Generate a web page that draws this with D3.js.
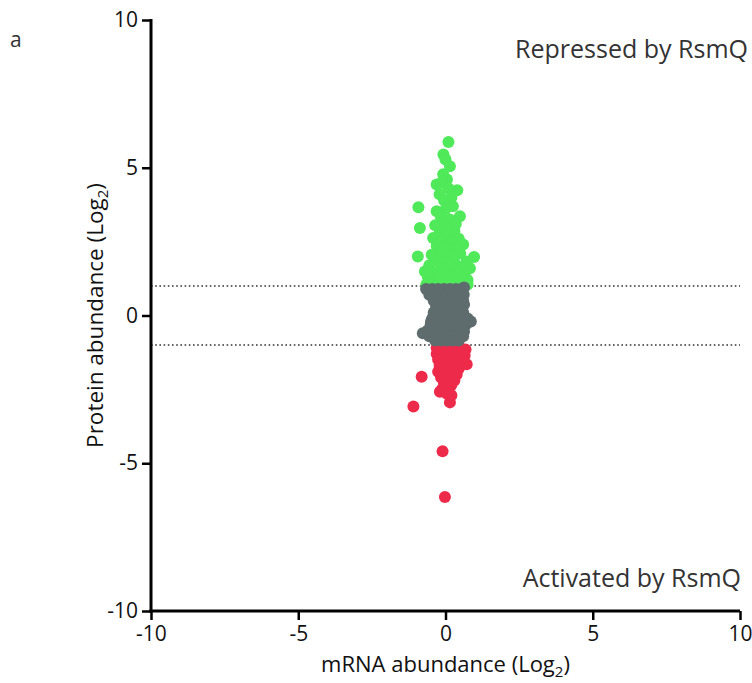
<!DOCTYPE html>
<html>
<head>
<meta charset="utf-8">
<script src="https://cdn.jsdelivr.net/npm/d3@7"></script>
<style>
  html, body { margin: 0; padding: 0; background: #fff; }
  svg { display: block; font-family: "Open Sans", sans-serif; }
</style>
</head>
<body>
<div id="chart"></div>
<script>
// log2 mRNA (x) vs log2 protein (y), one array per group
const repressed = [
  [0.10, 5.87], [-0.07, 5.45], [0.00, 5.28], [0.15, 5.05], [-0.08, 4.78], [0.05, 4.60],
  [-0.30, 4.43], [-0.13, 4.49], [0.40, 4.24], [0.10, 4.30], [-0.20, 4.10], [0.20, 4.00],
  [-0.05, 3.90], [-0.92, 3.66], [-0.30, 3.53], [0.00, 3.60], [0.25, 3.70], [0.49, 3.36],
  [-0.15, 3.30], [0.15, 3.25], [0.35, 3.10], [-0.35, 3.05], [0.00, 3.00], [-0.87, 2.96],
  [0.30, 2.85], [-0.20, 2.80], [0.10, 2.75], [0.45, 2.60], [-0.42, 2.62], [-0.10, 2.55],
  [0.20, 2.50], [0.60, 2.40], [-0.30, 2.35], [0.00, 2.30], [0.35, 2.25], [-0.47, 2.06],
  [-0.15, 2.10], [0.15, 2.05], [0.50, 2.10], [-0.94, 2.00], [0.97, 1.98], [0.72, 1.83],
  [-0.30, 1.85], [0.00, 1.80], [0.30, 1.80], [-0.55, 1.70], [0.83, 1.60], [0.55, 1.65],
  [-0.15, 1.60], [0.15, 1.60], [-0.70, 1.49], [-0.40, 1.45], [0.40, 1.45], [0.00, 1.40],
  [0.65, 1.35], [-0.60, 1.30], [-0.25, 1.30], [0.25, 1.30], [0.75, 1.20], [-0.50, 1.15],
  [0.10, 1.15], [0.50, 1.15], [-0.20, 1.10], [0.35, 1.10], [-0.65, 1.05], [0.75, 1.05]
];

const unchanged = [
  [-0.66, 0.90], [-0.45, 0.90], [-0.25, 0.90], [-0.05, 0.90], [0.15, 0.90], [0.35, 0.90], [0.55, 0.90], [0.63, 0.95],
  [-0.55, 0.70], [-0.35, 0.70], [-0.15, 0.70], [0.05, 0.70], [0.25, 0.70], [0.45, 0.70], [0.62, 0.70],
  [-0.40, 0.50], [-0.20, 0.50], [0.00, 0.50], [0.20, 0.50], [0.40, 0.50], [0.60, 0.50],
  [-0.32, 0.30], [-0.12, 0.30], [0.08, 0.30], [0.28, 0.30], [0.48, 0.30], [0.63, 0.37],
  [-0.40, 0.10], [-0.20, 0.10], [0.00, 0.10], [0.20, 0.10], [0.40, 0.10], [0.60, 0.10],
  [-0.45, -0.10], [-0.25, -0.10], [-0.05, -0.10], [0.15, -0.10], [0.35, -0.10], [0.55, -0.10], [0.75, -0.10],
  [-0.49, -0.20], [0.86, -0.20],
  [-0.50, -0.30], [-0.30, -0.30], [-0.10, -0.30], [0.10, -0.30], [0.30, -0.30], [0.50, -0.30], [0.70, -0.30],
  [-0.60, -0.50], [-0.40, -0.50], [-0.20, -0.50], [0.00, -0.50], [0.20, -0.50], [0.40, -0.50], [0.63, -0.54],
  [-0.77, -0.60],
  [-0.55, -0.70], [-0.35, -0.70], [-0.15, -0.70], [0.05, -0.70], [0.25, -0.70], [0.45, -0.70], [0.60, -0.70],
  [-0.35, -0.85], [-0.15, -0.85], [0.05, -0.85], [0.25, -0.85], [0.45, -0.85]
];

const activated = [
  [-0.30, -1.10], [-0.10, -1.10], [0.10, -1.10], [0.30, -1.10], [0.50, -1.10], [0.68, -1.15],
  [-0.30, -1.30], [-0.05, -1.30], [0.20, -1.30], [0.45, -1.30], [0.65, -1.35],
  [-0.25, -1.50], [0.00, -1.50], [0.25, -1.50], [0.50, -1.50], [0.72, -1.65],
  [-0.20, -1.70], [0.05, -1.70], [0.30, -1.70], [0.45, -1.80],
  [-0.25, -1.90], [0.00, -1.90], [0.20, -1.95], [0.38, -2.00], [-0.81, -2.07],
  [-0.15, -2.10], [0.10, -2.15], [0.30, -2.20], [-0.05, -2.30], [0.20, -2.35],
  [-0.12, -2.50], [0.10, -2.50], [-0.19, -2.58], [0.05, -2.65], [0.20, -2.70],
  [0.15, -2.94], [-1.09, -3.08], [-0.10, -4.59], [-0.02, -6.14]
];

const axisTicks = [-10, -5, 0, 5, 10];
const thresholds = [1, -1];

const width = 752, height = 683;
const svg = d3.select('#chart').append('svg')
    .attr('width', width)
    .attr('height', height);

const x = d3.scaleLinear().domain([-10, 10]).range([151, 740]);
const y = d3.scaleLinear().domain([-10, 10]).range([611, 20]);

// dotted threshold lines (under the points)
svg.append('g')
    .selectAll('line')
    .data(thresholds)
    .join('line')
    .attr('x1', x(-10))
    .attr('x2', x(10))
    .attr('y1', d => y(d))
    .attr('y2', d => y(d))
    .attr('stroke', '#333')
    .attr('stroke-width', 1.6)
    .attr('stroke-dasharray', '1.6,2.6');

// points
const groups = [
  { data: repressed, color: '#4fe95a' },
  { data: activated, color: '#ee2a4b' },
  { data: unchanged, color: '#5f6c6e' }
];
groups.forEach(gr => {
  svg.append('g')
      .selectAll('circle')
      .data(gr.data)
      .join('circle')
      .attr('cx', d => x(d[0]))
      .attr('cy', d => y(d[1]))
      .attr('r', 6)
      .attr('fill', gr.color);
});

// axes (hyphen minus as in the figure)
const fmt = d => String(d);
const xAxis = svg.append('g')
    .attr('transform', `translate(0,${y(-10)})`)
    .call(d3.axisBottom(x).tickValues(axisTicks).tickSize(9).tickPadding(6).tickFormat(fmt));
const yAxis = svg.append('g')
    .attr('transform', `translate(${x(-10)},0)`)
    .call(d3.axisLeft(y).tickValues(axisTicks).tickSize(9).tickPadding(4).tickFormat(fmt));

[xAxis, yAxis].forEach(ax => {
  ax.select('.domain').remove();
  ax.selectAll('.tick line').attr('stroke', '#000').attr('stroke-width', 2.5);
  ax.selectAll('.tick text')
      .attr('fill', '#111')
      .style('font-size', '21px')
      .style('font-family', '"Open Sans", sans-serif');
});
svg.append('line')
    .attr('x1', x(-10) - 1.5).attr('x2', x(10))
    .attr('y1', y(-10)).attr('y2', y(-10))
    .attr('stroke', '#000').attr('stroke-width', 3);
svg.append('line')
    .attr('x1', x(-10)).attr('x2', x(-10))
    .attr('y1', y(10) - 1).attr('y2', y(-10) + 1.5)
    .attr('stroke', '#000').attr('stroke-width', 3);

// titles
svg.append('text')
    .attr('x', x(0))
    .attr('y', 672)
    .attr('text-anchor', 'middle')
    .attr('fill', '#111')
    .style('font-size', '22px')
    .html('mRNA abundance (Log<tspan dy="5" font-size="15">2</tspan><tspan dy="-5">)</tspan>');

svg.append('text')
    .attr('transform', `translate(103,${y(0)}) rotate(-90)`)
    .attr('text-anchor', 'middle')
    .attr('fill', '#111')
    .style('font-size', '22.5px')
    .html('Protein abundance (Log<tspan dy="5" font-size="15">2</tspan><tspan dy="-5">)</tspan>');

svg.append('text')
    .attr('x', 748).attr('y', 58)
    .attr('text-anchor', 'end')
    .attr('fill', '#333')
    .style('font-size', '25px')
    .text('Repressed by RsmQ');

svg.append('text')
    .attr('x', 741).attr('y', 587)
    .attr('text-anchor', 'end')
    .attr('fill', '#333')
    .style('font-size', '25px')
    .text('Activated by RsmQ');

svg.append('text')
    .attr('x', 10).attr('y', 47)
    .attr('fill', '#333')
    .style('font-size', '21px')
    .text('a');
</script>
</body>
</html>
